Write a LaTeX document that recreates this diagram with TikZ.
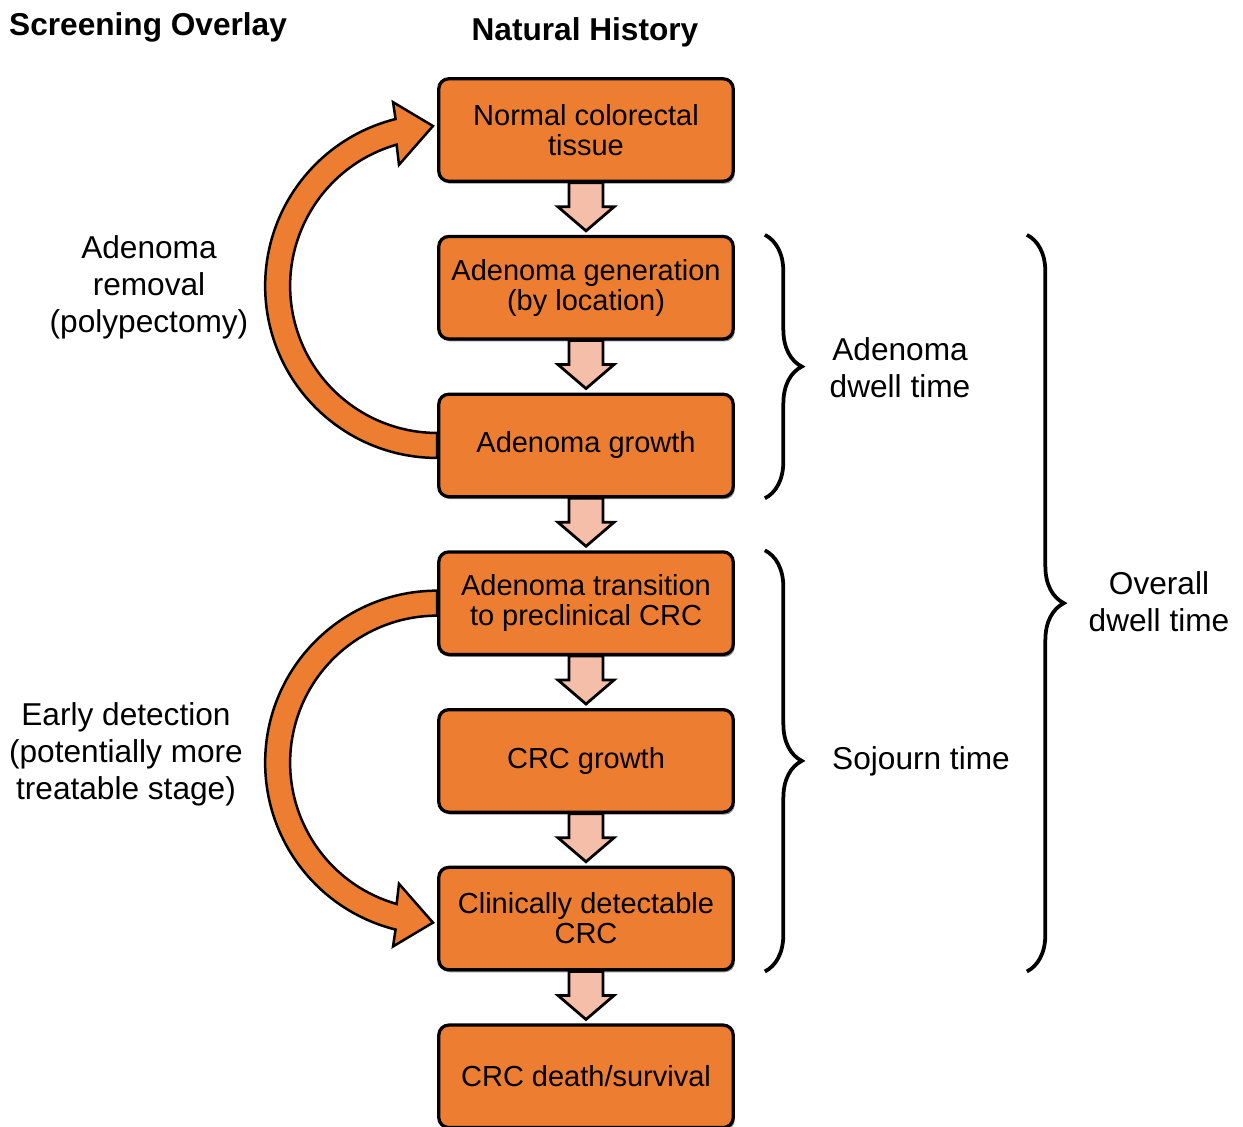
\documentclass[tikz,border=0pt]{standalone}
\usepackage{fontspec}
\setmainfont{Liberation Sans}
\usetikzlibrary{positioning,calc,decorations.pathreplacing,shadows}

\definecolor{boxorange}{HTML}{ED7D31}
\definecolor{arrowpink}{HTML}{F5BEA9}

\tikzset{
    stage/.style={draw=black, line width=0.065cm, fill=boxorange, rounded corners=0.2cm,
        minimum width=5.89cm, minimum height=2.05cm, align=center,
        font=\fontsize{16.5}{17.1}\selectfont,
        drop shadow={shadow xshift=0.03cm, shadow yshift=-0.05cm, opacity=0.45, fill=black}},
    downarrow/.style={draw=black, line width=0.055cm, fill=arrowpink},
    looparrow/.style={draw=black, line width=0.05cm, fill=boxorange},
    curly/.style={decorate, decoration={brace, amplitude=0.74cm}, line width=0.075cm},
    sidelabel/.style={align=center, font=\fontsize{18}{21}\selectfont},
    heading/.style={font=\fontsize{18}{21}\selectfont\bfseries},
}

\begin{document}
\begin{tikzpicture}[x=0.02cm, y=0.02cm, node distance=1.04cm]
    \useasboundingbox (0,0) rectangle (1243,-1126);

    % titles
    \node[heading, anchor=base west] (overlay) at (3,-35) {Screening Overlay};
    \node[heading, anchor=base] (history) at (585,-40) {Natural History};

    % natural history
    \node[stage] (normal) at (586,-130) {Normal colorectal\\tissue};
    \node[stage, below=of normal] (gen) {Adenoma generation\\(by location)};
    \node[stage, below=of gen] (growth) {Adenoma growth};
    \node[stage, below=of growth] (trans) {Adenoma transition\\to preclinical CRC};
    \node[stage, below=of trans] (crcg) {CRC growth};
    \node[stage, below=of crcg] (clin) {Clinically detectable\\CRC};
    \node[stage, below=of clin] (death) {CRC death/survival};

    \foreach \a/\b in {normal/gen, gen/growth, growth/trans, trans/crcg, crcg/clin, clin/death}
        \draw[downarrow] ($(\a.south)+(-17,0)$) -- ($(\a.south)+(-17,-24)$)
            -- ($(\a.south)+(-28,-24)$) -- ($(\b.north)+(0,4)$)
            -- ($(\a.south)+(28,-24)$) -- ($(\a.south)+(17,-24)$)
            -- ($(\a.south)+(17,0)$) -- cycle;

    % screening overlay
    \coordinate (c1) at ($(growth.west)+(0,159.5)$);
    \draw[looparrow] ($(c1)+(270:172)$) arc[start angle=270, end angle=104, radius=172]
        -- ($(c1)+(103.5:189)$) -- ($(c1)+(91.5:160)$) -- ($(c1)+(107.5:127)$)
        -- ($(c1)+(106:147)$) arc[start angle=106, end angle=270, radius=147] -- cycle;
    \node[sidelabel] (removal) at (149,-287) {Adenoma\\removal\\(polypectomy)};

    \coordinate (c2) at ($(trans.west)+(0,-159.5)$);
    \draw[looparrow] ($(c2)+(90:172)$) arc[start angle=90, end angle=256, radius=172]
        -- ($(c2)+(256.5:189)$) -- ($(c2)+(268.5:160)$) -- ($(c2)+(252.5:127)$)
        -- ($(c2)+(254:147)$) arc[start angle=254, end angle=90, radius=147] -- cycle;
    \node[sidelabel] (detect) at (126,-754) {Early detection\\(potentially more\\treatable stage)};

    % dwell times
    \draw[curly] ($(gen.north east)+(30,0)$) -- ($(growth.south east)+(30,0)$);
    \node[sidelabel] (adwell) at (900,-368) {Adenoma\\dwell time};

    \draw[curly] ($(trans.north east)+(30,0)$) -- ($(clin.south east)+(30,0)$);
    \node[sidelabel] (sojourn) at (921,-761) {Sojourn time};

    \draw[curly] ($(gen.north east)+(292,0)$) -- ($(clin.south east)+(292,0)$);
    \node[sidelabel] (overall) at (1159,-602) {Overall\\dwell time};
\end{tikzpicture}
\end{document}
